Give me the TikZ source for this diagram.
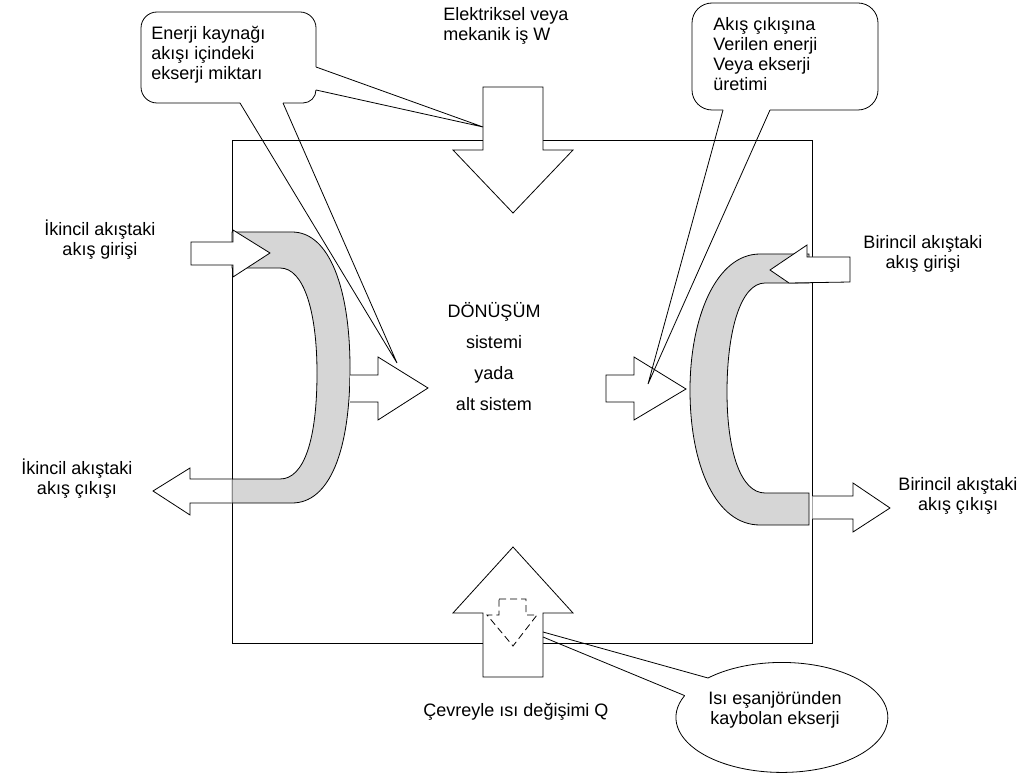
\documentclass[tikz,border=0pt]{standalone}
\usepackage{fontspec}
\setmainfont{Liberation Sans}
\usetikzlibrary{positioning}

\begin{document}
\begin{tikzpicture}[x=1pt,y=-1pt,line width=0.8pt,
    txt/.style={font=\fontsize{18}{20}\selectfont,inner sep=0pt,align=center,
      execute at begin node=\strut,execute at end node=\strut},
    blk/.style={draw,fill=white},
    hx/.style={draw,fill=black!16},
    dashblk/.style={draw,dash pattern=on 7pt off 4pt}]
    \useasboundingbox (0,0) rectangle (1023,778);

    % system boundary
    \draw (232,140) rectangle (812,643);

    % heat exchangers
    \draw[hx] (232,232) -- (292,232) .. controls (330,232) and (350,290) .. (350,368)
        .. controls (350,450) and (330,503) .. (292,503) -- (232,503) -- (232,479) -- (280,479)
        .. controls (304,479) and (317,440) .. (317,373) .. controls (317,312) and (304,268) .. (280,268)
        -- (232,268) -- cycle;
    \draw[hx] (809,254) -- (760,254) .. controls (716,254) and (690,318) .. (690,390)
        .. controls (690,466) and (716,525) .. (760,525) -- (809,525) -- (809,493) -- (765,493)
        .. controls (741,493) and (727,452) .. (727,392) .. controls (727,330) and (741,283) .. (765,283)
        -- (809,283) -- cycle;

    % block arrows
    \draw[blk] (483,87) -- (543,87) -- (543,150) -- (573,150) -- (513,213) -- (453,150) -- (483,150) -- cycle;
    \draw[blk] (483,677) -- (543,677) -- (543,613) -- (573,613) -- (513,547) -- (453,613) -- (483,613) -- cycle;
    \draw[dashblk] (499,599) -- (526,599) -- (526,615) -- (537,615) -- (513,646) -- (487,615) -- (499,615) -- cycle;
    \draw[blk] (191,242) -- (233,242) -- (233,230) -- (270,253) -- (233,277) -- (233,265) -- (191,265) -- cycle;
    \draw[blk] (231.6,479) -- (190,479) -- (190,468) -- (153,491) -- (190,515) -- (190,503) -- (231.6,503);
    \draw[blk] (350,375) -- (378,375) -- (378,357) -- (428,388) -- (378,420) -- (378,402) -- (350,402);
    \draw[blk] (606,375) -- (634,375) -- (634,357) -- (686,389) -- (634,420) -- (634,402) -- (606,402) -- cycle;
    \draw[blk] (807,257) -- (850,257) -- (850,282) -- (789,283) -- (770,270) -- (807,245) -- cycle;
    \draw[blk] (812.4,496) -- (853,496) -- (853,483) -- (890,508) -- (853,532) -- (853,519) -- (812.4,519);

    % callout points
    \coordinate (wtip) at (483,127);
    \coordinate (stip) at (397,363);
    \coordinate (otip) at (648,384);
    \coordinate (qtipA) at (543,632);
    \coordinate (qtipB) at (543,637);
    \coordinate (sa) at (316,67);
    \coordinate (sb) at (316,90);
    \coordinate (sc) at (240,103);
    \coordinate (sd) at (283,103);
    \coordinate (oa) at (723,110);
    \coordinate (ob) at (770,110);
    \coordinate (qa) at (708,678);

    % callouts
    \draw[rounded corners=13pt] (sb) -- (316,103) -- (sd);
    \draw[rounded corners=16pt] (sc) -- (141,103) -- (141,12) -- (316,12) -- (sa);
    \draw (sa) -- (wtip) -- (sb);
    \draw (sc) -- (stip) -- (sd);
    \draw[rounded corners=20pt] (ob) -- (878,110) -- (878,3) -- (692,3) -- (692,110) -- (oa);
    \draw (oa) -- (otip) -- (ob);
    \draw (qa) arc[start angle=225.8,end angle=563.4,x radius=106,y radius=55] coordinate (qb);
    \draw (qa) -- (qtipA);
    \draw (qb) -- (qtipB);

    % labels
    \node[txt,align=left,anchor=west] (workLbl) at (443,27.4) {Elektriksel veya\\mekanik iş W};
    \node[txt,align=left,anchor=west] (srcLbl) at (151,55.4) {Enerji kaynağı\\akışı içindeki\\ekserji miktarı};
    \node[txt,align=left,anchor=west] (outLbl) at (713,57.4) {Akış çıkışına\\Verilen enerji\\Veya ekserji\\üretimi};
    \node[txt] (secIn) at (100,240.4) {İkincil akıştaki\\akış girişi};
    \node[txt] (secOut) at (77,479.4) {İkincil akıştaki\\akış çıkışı};
    \node[txt] (priIn) at (923,255.4) {Birincil akıştaki\\akış girişi};
    \node[txt] (priOut) at (958,497.4) {Birincil akıştaki\\akış çıkışı};
    \node[txt] (convLbl) at (494,359) {DÖNÜŞÜM\\[11pt]sistemi\\[11pt]yada\\[11pt]alt sistem};
    \node[txt] (heatLbl) at (516,712.4) {Çevreyle ısı değişimi Q};
    \node[txt] (lossLbl) at (775,711.4) {Isı eşanjöründen\\kaybolan ekserji};
\end{tikzpicture}
\end{document}
